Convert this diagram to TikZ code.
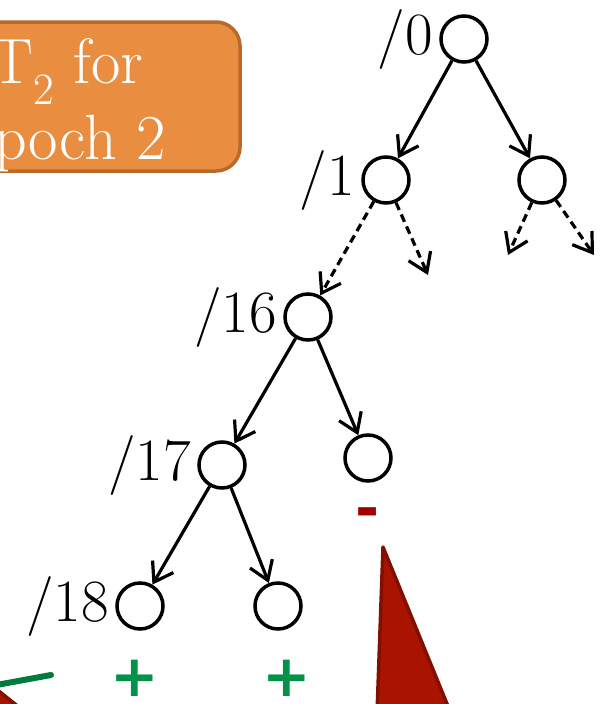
\documentclass[tikz,border=0pt]{standalone}
\usepackage{fontspec}
\newfontfamily\signfont{DejaVu Sans}
\usetikzlibrary{arrows.meta, positioning}

\definecolor{boxorange}{RGB}{233,142,64}
\definecolor{boxedge}{RGB}{185,106,43}
\definecolor{plusgreen}{RGB}{0,146,73}
\definecolor{minusred}{RGB}{160,0,0}
\definecolor{wedgered}{RGB}{168,20,0}
\definecolor{wedgeedge}{RGB}{130,16,0}
\definecolor{linegreen}{RGB}{0,122,61}

\begin{document}
\begin{tikzpicture}[
  x=1pt, y=-1pt,
  on grid,
  every label/.style={font=\fontsize{60}{62}\selectfont, inner sep=6pt},
  vertex/.style={circle, draw, line width=3.5pt, minimum size=46pt, inner sep=0pt},
  arrow/.style={-{Straight Barb[length=18pt, width=24pt]}, line width=3.2pt},
  guess/.style={arrow, dash pattern=on 8pt off 5pt},
  sign/.style={font=\signfont\bfseries\fontsize{58}{60}\selectfont, inner sep=0pt},
  wedge/.style={draw=wedgeedge, fill=wedgered, line width=3.5pt, line join=round},
  ]
  \useasboundingbox (0,0) rectangle (602,704);
  \clip (0,0) rectangle (602,704);

  % Epoch box
  \draw[draw=boxedge, fill=boxorange, line width=3.5pt, rounded corners=24pt]
    (-120,22) rectangle (240,171);
  \node[text=white, align=center, inner sep=0pt,
        font=\fontsize{64}{76}\selectfont] (epoch) at (67,105) {T\textsubscript{2} for\\epoch 2};

  % Tree nodes
  \node[vertex, label={left:/0}] (n0) at (464,39) {};
  \node[vertex, label={left:/1}, below left=141pt and 78pt of n0] (n1) {};
  \node[vertex, below right=141pt and 78pt of n0] (n2) {};
  \node[vertex, label={left:/16}, below left=137pt and 78pt of n1] (n16) {};
  \node[vertex, below right=141pt and 60pt of n16] (n16r) {};
  \node[vertex, label={left:/17}, below left=148pt and 86pt of n16] (n17) {};
  \node[vertex, label={left:/18}, below left=141pt and 82pt of n17] (n18) {};
  \node[vertex, below right=141pt and 56pt of n17] (n18r) {};

  % Unexplored branches
  \coordinate[below right=95pt and 42pt of n1] (n1r);
  \coordinate[below left=75pt and 34pt of n2] (n2l);
  \coordinate[below right=75pt and 52pt of n2] (n2r);

  % Arrows
  \draw[arrow] (n0) -- (n1);
  \draw[arrow] (n0) -- (n2);
  \draw[guess] (n1) -- (n16);
  \draw[guess] (n1) -- (n1r);
  \draw[guess] (n2) -- (n2l);
  \draw[guess] (n2) -- (n2r);
  \draw[arrow] (n16) -- (n17);
  \draw[arrow] (n16) -- (n16r);
  \draw[arrow] (n17) -- (n18);
  \draw[arrow] (n17) -- (n18r);

  % Outcomes
  \node[sign, text=plusgreen, below left=72pt and 5pt of n18] (p18) {+};
  \node[sign, text=plusgreen, below right=72pt and 9pt of n18r] (p18r) {+};
  \node[sign, text=minusred, below=60pt of n16r] (m16r) {-};

  % Pieces from below
  \draw[wedge] (383,547) -- (474,770) -- (375,770) -- cycle;
  \draw[wedge] (-40,660) -- (40,724) -- (-40,724) -- cycle;
  \draw[linegreen, line width=6pt, line cap=round] (51,675) -- (-20,688);
\end{tikzpicture}
\end{document}
